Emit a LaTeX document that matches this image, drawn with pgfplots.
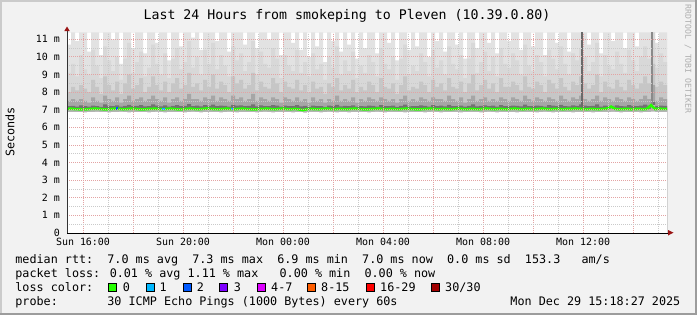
\documentclass[border=0pt]{standalone}
\usepackage{fontspec}
\setmainfont{DejaVu Sans Mono}
\usepackage{pgfplots}
\usepackage{pgfplotstable}
\pgfplotsset{compat=1.18}
\definecolor{bgc}{HTML}{F2F2F2}
\definecolor{shadea}{HTML}{CBCBCB}
\definecolor{shadeb}{HTML}{9C9C9C}
\definecolor{mgrid}{HTML}{E3A3A3}
\definecolor{ngrid}{HTML}{CACACA}
\definecolor{arr}{HTML}{9A1414}
\definecolor{la}{HTML}{E2E2E2}
\definecolor{lb}{HTML}{D8D8D8}
\definecolor{lc}{HTML}{C6C6C6}
\definecolor{ld}{HTML}{A6A6A6}
\definecolor{le}{HTML}{727272}
\definecolor{lm}{HTML}{B4B4B4}
\definecolor{spa}{HTML}{6A6A6A}
\definecolor{spb}{HTML}{8A8A8A}
\definecolor{c0}{HTML}{26FF00}
\definecolor{c1}{HTML}{00B8FF}
\definecolor{c2}{HTML}{0059FF}
\definecolor{c3}{HTML}{7E00FF}
\definecolor{c4}{HTML}{DD00FF}
\definecolor{c8}{HTML}{FF5E00}
\definecolor{c16}{HTML}{FF0000}
\definecolor{c30}{HTML}{A10000}
\definecolor{wm}{HTML}{AEAEAE}
\pgfplotstableread{
t a b c d e m w
0 10.7 9.1 8.0 7.5 7.20 7.05 6.87
1 11.4 9.6 8.3 7.6 7.22 7.06 6.86
2 10.9 8.9 8.1 7.5 7.18 7.04 6.87
3 11.4 10.1 8.4 7.6 7.25 7.03 6.86
4 11.4 9.3 8.2 7.5 7.20 7.02 6.85
5 10.3 9.0 8.0 7.4 7.18 7.03 6.86
6 11.4 10.4 8.7 7.7 7.24 7.05 6.87
7 11.4 9.5 8.3 7.5 7.20 7.06 6.88
8 10.1 8.8 7.9 7.4 7.17 7.05 6.87
9 11.4 10.6 8.9 7.8 7.30 7.03 6.86
10 11.4 9.8 8.4 7.6 7.22 7.02 6.85
11 11.0 9.2 8.1 7.5 7.20 7.04 6.86
12 11.4 10.0 8.6 7.7 7.25 7.06 6.87
13 9.6 8.7 7.9 7.4 7.18 7.05 6.88
14 11.4 9.9 8.5 7.6 7.22 7.03 6.86
15 11.4 10.8 9.0 7.8 7.28 7.04 6.85
16 10.5 9.1 8.2 7.5 7.20 7.06 6.87
17 11.4 9.7 8.4 7.6 7.22 7.05 6.86
18 11.4 10.3 8.8 7.7 7.26 7.03 6.87
19 10.2 8.9 8.0 7.5 7.19 7.02 6.86
20 11.4 9.4 8.3 7.6 7.21 7.04 6.85
21 11.4 10.7 8.9 7.8 7.30 7.05 6.87
22 10.8 9.6 8.4 7.6 7.23 7.06 6.88
23 11.4 9.0 8.1 7.5 7.19 7.04 6.86
24 11.4 10.2 8.6 7.7 7.25 7.03 6.85
25 9.8 8.8 8.0 7.4 7.18 7.05 6.87
26 11.4 9.9 8.5 7.6 7.22 7.06 6.86
27 11.4 10.5 8.8 7.7 7.27 7.04 6.87
28 10.6 9.3 8.2 7.5 7.20 7.02 6.86
29 11.4 9.7 8.4 7.6 7.22 7.03 6.85
30 11.4 10.9 9.1 7.9 7.32 7.05 6.87
31 11.1 9.4 8.3 7.6 7.21 7.06 6.88
32 11.4 10.0 8.5 7.6 7.24 7.04 6.86
33 10.4 9.0 8.1 7.5 7.19 7.03 6.85
34 11.4 10.4 8.7 7.7 7.26 7.05 6.87
35 11.4 9.6 8.3 7.6 7.22 7.07 6.86
36 11.4 10.8 9.0 7.8 7.29 7.05 6.87
37 10.9 9.3 8.2 7.5 7.20 7.04 6.86
38 11.4 10.1 8.6 7.7 7.24 7.03 6.85
39 11.4 9.5 8.4 7.6 7.22 7.05 6.87
40 10.3 8.9 8.0 7.5 7.18 7.06 6.88
41 11.4 10.6 8.9 7.8 7.28 7.04 6.86
42 11.4 9.8 8.5 7.6 7.23 7.03 6.85
43 11.4 10.2 8.7 7.7 7.25 7.05 6.87
44 10.7 9.2 8.2 7.5 7.20 7.06 6.86
45 11.4 9.7 8.4 7.6 7.22 7.04 6.87
46 11.4 10.9 9.1 7.9 7.31 7.03 6.86
47 10.5 9.0 8.1 7.5 7.19 7.02 6.85
48 11.4 10.3 8.6 7.7 7.25 7.04 6.87
49 11.4 9.6 8.3 7.6 7.21 7.05 6.88
50 11.0 9.4 8.2 7.5 7.20 7.06 6.86
51 11.4 10.5 8.8 7.7 7.27 7.04 6.85
52 11.4 9.9 8.5 7.6 7.23 7.03 6.87
53 10.1 8.8 8.0 7.4 7.18 7.05 6.86
54 11.4 10.1 8.6 7.7 7.24 7.06 6.87
55 11.4 9.5 8.3 7.6 7.21 7.04 6.86
56 10.8 9.2 8.2 7.5 7.20 7.03 6.85
57 11.4 10.4 8.7 7.7 7.26 7.05 6.87
58 10.4 9.1 8.1 7.5 7.19 7.02 6.86
59 11.4 9.7 8.4 7.6 7.22 6.98 6.84
60 10.0 8.9 8.0 7.4 7.17 7.03 6.86
61 11.4 10.2 8.6 7.7 7.24 7.05 6.87
62 10.6 9.3 8.2 7.5 7.20 7.04 6.86
63 11.4 9.6 8.3 7.6 7.21 7.03 6.85
64 9.7 8.7 7.9 7.4 7.17 7.05 6.87
65 11.4 10.0 8.5 7.6 7.23 7.06 6.88
66 10.9 9.4 8.3 7.5 7.20 7.04 6.86
67 11.4 10.6 8.8 7.8 7.28 7.03 6.85
68 10.3 9.0 8.1 7.5 7.19 7.05 6.87
69 11.4 9.8 8.4 7.6 7.22 7.04 6.86
70 10.7 9.2 8.2 7.5 7.20 7.03 6.85
71 11.4 10.3 8.7 7.7 7.25 7.05 6.87
72 9.9 8.8 8.0 7.4 7.18 7.06 6.86
73 11.4 9.5 8.3 7.6 7.21 7.04 6.87
74 10.5 9.1 8.1 7.5 7.19 7.03 6.86
75 11.4 10.1 8.6 7.7 7.24 7.02 6.85
76 11.4 9.7 8.4 7.6 7.22 7.04 6.87
77 10.2 8.9 8.0 7.5 7.18 7.05 6.88
78 11.4 10.5 8.8 7.7 7.27 7.06 6.86
79 11.4 9.6 8.3 7.6 7.21 7.04 6.85
80 10.8 9.3 8.2 7.5 7.20 7.03 6.87
81 11.4 10.0 8.5 7.6 7.23 7.05 6.86
82 9.8 8.7 7.9 7.4 7.17 7.04 6.87
83 11.4 9.9 8.4 7.6 7.22 7.03 6.86
84 11.4 10.7 8.9 7.8 7.29 7.05 6.85
85 10.4 9.0 8.1 7.5 7.19 7.06 6.87
86 11.4 9.5 8.3 7.6 7.21 7.04 6.86
87 10.6 9.2 8.2 7.5 7.20 7.03 6.87
88 11.4 10.2 8.6 7.7 7.25 7.02 6.86
89 11.4 9.7 8.4 7.6 7.22 7.04 6.85
90 10.0 8.9 8.0 7.5 7.18 7.05 6.87
91 11.4 10.4 8.7 7.7 7.26 7.06 6.88
92 10.9 9.4 8.3 7.6 7.21 7.04 6.86
93 11.4 9.8 8.5 7.6 7.23 7.03 6.85
94 10.3 9.0 8.1 7.5 7.19 7.05 6.87
95 11.4 10.6 8.8 7.8 7.28 7.04 6.86
96 11.4 9.6 8.3 7.6 7.21 7.03 6.87
97 10.7 9.3 8.2 7.5 7.20 7.05 6.86
98 11.4 10.1 8.6 7.7 7.24 7.06 6.85
99 9.9 8.8 8.0 7.4 7.18 7.04 6.87
100 11.4 9.9 8.5 7.6 7.22 7.03 6.86
101 11.4 10.8 9.0 7.8 7.30 7.05 6.87
102 10.5 9.1 8.1 7.5 7.19 7.04 6.86
103 11.4 9.7 8.4 7.6 7.22 7.03 6.85
104 11.4 10.3 8.7 7.7 7.25 7.05 6.87
105 10.8 9.2 8.2 7.5 7.20 7.06 6.88
106 11.4 10.0 8.5 7.6 7.23 7.04 6.86
107 10.2 8.9 8.0 7.5 7.18 7.03 6.85
108 11.4 10.5 8.8 7.7 7.27 7.05 6.87
109 11.4 9.6 8.3 7.6 7.21 7.04 6.86
110 10.9 9.4 8.3 7.5 7.20 7.03 6.87
111 11.4 10.2 8.6 7.7 7.24 7.05 6.86
112 11.4 9.8 8.4 7.6 7.22 7.06 6.85
113 10.4 9.0 8.1 7.5 7.19 7.04 6.87
114 11.4 10.7 8.9 7.8 7.29 7.03 6.86
115 11.4 9.5 8.3 7.6 7.21 7.05 6.87
116 10.6 9.2 8.2 7.5 7.20 7.04 6.86
117 11.4 10.1 8.6 7.7 7.24 7.03 6.85
118 11.4 9.7 8.4 7.6 7.22 7.05 6.87
119 10.1 8.9 8.0 7.5 7.18 7.06 6.88
120 11.4 10.4 8.7 7.7 7.26 7.04 6.86
121 11.4 9.9 8.5 7.6 7.23 7.03 6.85
122 10.8 9.3 8.2 7.5 7.20 7.05 6.87
123 11.4 10.6 8.8 7.8 7.28 7.04 6.86
124 11.4 9.6 8.3 7.6 7.21 7.03 6.87
125 10.3 9.0 8.1 7.5 7.19 7.05 6.86
126 11.4 10.2 8.6 7.7 7.25 7.04 6.85
127 11.4 9.8 8.4 7.6 7.22 7.06 6.87
128 11.4 10.5 8.9 7.8 7.30 7.05 6.86
129 11.4 10.0 8.5 7.6 7.23 7.04 6.87
130 10.7 9.2 8.2 7.5 7.20 7.03 6.86
131 11.4 9.7 8.4 7.6 7.22 7.05 6.85
132 11.4 10.8 9.0 7.8 7.30 7.04 6.87
133 10.2 8.9 8.0 7.5 7.18 7.03 6.86
134 11.4 10.1 8.6 7.7 7.24 7.05 6.87
135 11.4 9.5 8.3 7.6 7.21 7.06 6.86
136 10.9 9.3 8.2 7.5 7.22 7.18 6.88
137 11.4 10.3 8.7 7.7 7.25 7.05 6.86
138 11.4 9.6 8.3 7.6 7.21 7.03 6.85
139 10.5 9.1 8.1 7.5 7.19 7.04 6.87
140 11.4 10.4 8.7 7.7 7.26 7.05 6.86
141 11.4 9.8 8.4 7.6 7.22 7.03 6.87
142 10.6 9.2 8.2 7.5 7.20 7.04 6.86
143 11.4 10.0 8.5 7.6 7.23 7.05 6.85
144 11.4 10.6 8.9 7.8 7.29 7.03 6.87
145 11.4 9.9 8.5 7.6 7.23 7.05 6.86
146 11.4 11.4 9.6 8.4 7.45 7.26 6.90
147 10.8 9.4 8.3 7.5 7.20 7.04 6.87
148 11.4 10.2 8.6 7.7 7.24 7.06 6.86
149 11.4 9.7 8.4 7.6 7.22 7.05 6.87
150 11.4 9.7 8.4 7.6 7.22 7.05 6.87
}\smoke
\begin{document}
\begin{tikzpicture}
\begin{scope}[x=1bp,y=1bp]
\useasboundingbox (0,0) rectangle (697,315);
\fill[bgc] (0,0) rectangle (697,315);
\fill[shadea] (0,0) rectangle (2,315);
\fill[shadea] (0,313) rectangle (697,315);
\fill[shadeb] (694.5,0) rectangle (697,315);
\fill[shadeb] (0,0) rectangle (697,2.5);
\fill[white] (67,82) rectangle (667,282);
\end{scope}
\begin{axis}[
  at={(67bp,82bp)}, anchor=south west,
  scale only axis, width=600bp, height=200bp,
  xmin=0, xmax=150, ymin=0, ymax=11.36,
  axis on top,
  axis line style={draw=none},
  tick style={draw=none},
  xtick={4,16.5,29,41.5,54,66.5,79,91.5,104,116.5,129,141.5},
  xticklabels={Sun 16:00,,Sun 20:00,,Mon 00:00,,Mon 04:00,,Mon 08:00,,Mon 12:00,},
  minor xtick={10.25,22.75,35.25,47.75,60.25,72.75,85.25,97.75,110.25,122.75,135.25,147.75},
  ytick={0,1,2,3,4,5,6,7,8,9,10,11},
  yticklabels={0,1 m,2 m,3 m,4 m,5 m,6 m,7 m,8 m,9 m,10 m,11 m},
  minor ytick={0.5,1.5,2.5,3.5,4.5,5.5,6.5,7.5,8.5,9.5,10.5},
  grid=both,
  major grid style={draw=mgrid, line width=0.9bp, dash pattern=on 1bp off 1bp},
  minor grid style={draw=ngrid, line width=0.9bp, dash pattern=on 1bp off 1bp},
  ticklabel style={font=\fontsize{10}{12}\selectfont, inner sep=0pt},
  xticklabel style={anchor=base, yshift=-12.7bp},
  yticklabel style={anchor=base east, xshift=-7bp, yshift=-3.6bp},
  /pgf/number format/assume math mode=true,
]
\addplot[const plot, fill=la, draw=none] table[x=t, y=a] {\smoke} \closedcycle;
\addplot[const plot, fill=lb, draw=none] table[x=t, y=b] {\smoke} \closedcycle;
\addplot[const plot, fill=lc, draw=none] table[x=t, y=c] {\smoke} \closedcycle;
\addplot[const plot, fill=ld, draw=none] table[x=t, y=d] {\smoke} \closedcycle;
\addplot[const plot, fill=le, draw=none] table[x=t, y=e] {\smoke} \closedcycle;
\addplot[ycomb, draw=spa, line width=2bp] coordinates {(128.75,11.4)};
\addplot[ycomb, draw=spb, line width=2.5bp] coordinates {(146.2,11.4)};
\addplot[const plot, fill=lm, draw=none] table[x=t, y=m] {\smoke} \closedcycle;
\addplot[const plot, fill=white, draw=none] table[x=t, y=w] {\smoke} \closedcycle;
\addplot[c0, line width=2.6bp] table[x=t, y=m] {\smoke};
\addplot[c2, line width=2.6bp] coordinates {(12.2,7.06) (12.8,7.06)};
\addplot[c1, line width=2.6bp] coordinates {(23.8,7.05) (24.4,7.05)};
\addplot[c1, line width=2.6bp] coordinates {(41.0,7.04) (41.6,7.04)};
\end{axis}
\begin{scope}[x=1bp,y=1bp]
\draw[black, line width=1bp] (67,82) -- (668,82);
\draw[black!80, line width=1bp] (67,82) -- (67,284);
\fill[arr] (64.3,284) -- (69.7,284) -- (67,288.5) -- cycle;
\fill[arr] (668,79.5) -- (668,85) -- (673.5,82.3) -- cycle;
\node[anchor=base, inner sep=0pt, font=\fontsize{13.3}{16}\selectfont] at (347,296) {Last 24 Hours from smokeping to Pleven (10.39.0.80)};
\node[rotate=90, inner sep=0pt, font=\fontsize{11.8}{14}\selectfont] at (10,183) {Seconds};
\node[rotate=-90, inner sep=0pt, text=wm, font=\fontsize{8.2}{10}\selectfont] at (688,256) {RRDTOOL / TOBI OETIKER};
\begin{scope}[every node/.style={anchor=base west, inner sep=0pt, font=\fontsize{11.8}{14}\selectfont}]
\node at (15.2,51.7) {median rtt:~~7.0 ms avg~~7.3 ms max~~6.9 ms min~~7.0 ms now~~0.0 ms sd~~153.3~~~am/s};
\node at (15.2,37.7) {packet loss: 0.01 \% avg 1.11 \% max~~~0.00 \% min~~0.00 \% now};
\node at (15.2,23.7) {loss color:};
\node at (15.2,9.7) {probe:~~~~~~~30 ICMP Echo Pings (1000 Bytes) every 60s};
\node[anchor=base east] at (680.5,9.7) {Mon Dec 29 15:18:27 2025};
\node at (122.6,23.7) {0};
\node at (159.3,23.7) {1};
\node at (196.6,23.7) {2};
\node at (233.6,23.7) {3};
\node at (271.0,23.7) {4-7};
\node at (321.0,23.7) {8-15};
\node at (380.0,23.7) {16-29};
\node at (445.0,23.7) {30/30};
\end{scope}
\foreach \xx/\cc in {108/c0,145.5/c1,182.7/c2,219.3/c3,256.7/c4,307.3/c8,365.7/c16,431/c30}{
  \filldraw[fill=\cc, draw=black, line width=1bp] (\xx+0.5,24) rectangle (\xx+8.5,32);
}
\end{scope}
\end{tikzpicture}
\end{document}
